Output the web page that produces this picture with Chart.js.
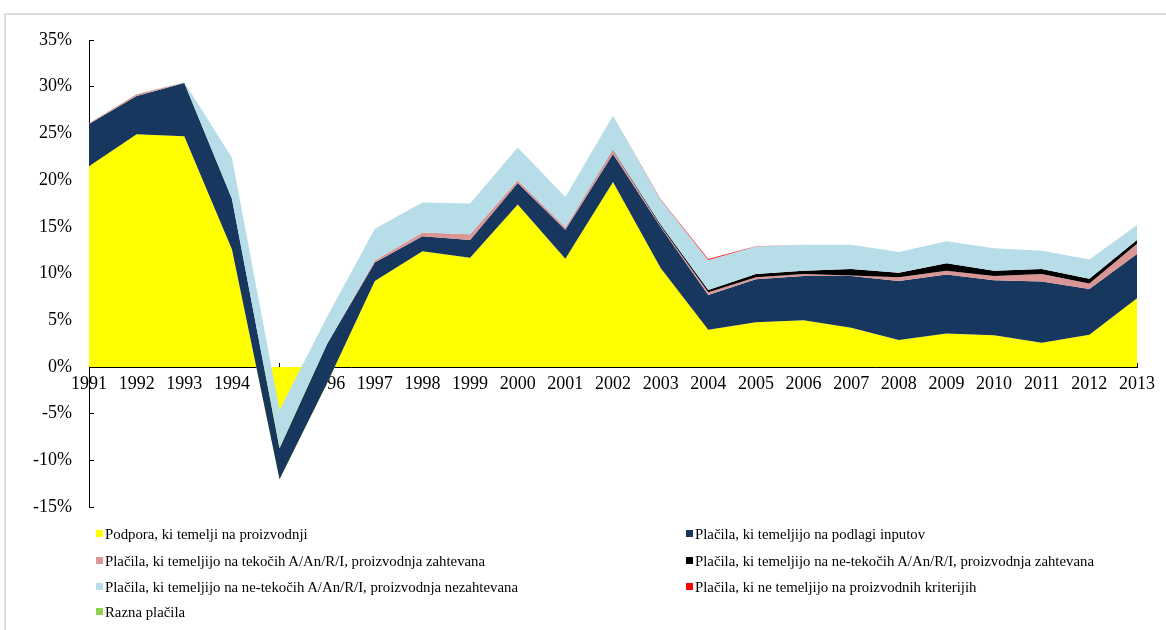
<!DOCTYPE html>
<html><head><meta charset="utf-8">
<script src="https://cdn.jsdelivr.net/npm/chart.js@4.4.1/dist/chart.umd.min.js"></script>
<style>
html,body{margin:0;padding:0;background:#fff;}
body{width:1166px;height:630px;position:relative;overflow:hidden;font-family:"Liberation Serif","Times New Roman",serif;}
#frame{position:absolute;left:4px;top:13px;width:1200px;height:700px;border-left:2px solid #dcdcdc;border-top:2px solid #dcdcdc;}
#wrap{position:absolute;left:0;top:0;width:1166px;height:540px;}
#legend{position:absolute;left:0;top:0;width:1166px;height:630px;pointer-events:none;}
.li{position:absolute;font-size:14.8px;line-height:16px;white-space:nowrap;color:#000;}
.sw{position:absolute;width:7px;height:7px;}
</style></head>
<body>
<div id="frame"></div>
<div id="wrap"><canvas id="c" width="1166" height="540"></canvas></div>
<div id="legend"></div>
<script>
const years = ['1991','1992','1993','1994','1995','1996','1997','1998','1999','2000','2001','2002','2003','2004','2005','2006','2007','2008','2009','2010','2011','2012','2013'];
const seriesNames = [
  'Podpora, ki temelji na proizvodnji',
  'Plačila, ki temeljijo na podlagi inputov',
  'Plačila, ki temeljijo na tekočih A/An/R/I, proizvodnja zahtevana',
  'Plačila, ki temeljijo na ne-tekočih A/An/R/I, proizvodnja zahtevana',
  'Plačila, ki temeljijo na ne-tekočih A/An/R/I, proizvodnja nezahtevana',
  'Plačila, ki ne temeljijo na proizvodnih kriterijih',
  'Razna plačila'
];
const seriesColors = ['#FFFF00','#17375E','#D99694','#000000','#B7DDE8','#FF0000','#92D050'];
const yTicks = [-15,-10,-5,0,5,10,15,20,25,30,35];

// series values (% shares)
const podpora   = [21.5,24.9,24.7,12.6,-12.0,-1.7,9.2,12.4,11.7,17.4,11.6,19.8,10.6,4.0,4.8,5.0,4.2,2.9,3.6,3.4,2.6,3.45,7.35];
const inputi    = [4.5,4.1,5.7,5.4,3.3,4.2,2.0,1.6,1.9,2.3,3.1,3.0,4.4,3.7,4.6,4.75,5.55,6.3,6.3,5.9,6.55,4.9,4.75];
const tekociZ   = [0.1,0.2,0.05,0,0,0,0.2,0.4,0.6,0.3,0.25,0.4,0.1,0.3,0.2,0.2,0.05,0.4,0.4,0.45,0.8,0.6,1.1];
const netekociZ = [0,0,0,0,0,0,0,0,0,0,0,0.05,0.15,0.25,0.35,0.35,0.7,0.5,0.8,0.55,0.55,0.5,0.4];
const netekociN = [0,0,0.05,4.4,4.1,2.9,3.4,3.2,3.3,3.5,3.25,3.65,2.65,3.2,2.95,2.8,2.6,2.2,2.35,2.4,1.95,2.05,1.6];
const neProiz   = [0,0,0,0,0,0,0,0,0,0,0,0,0.05,0.12,0.02,0,0,0,0,0,0,0,0];
const razna     = [0,0,0,0,0,0,0,0,0,0,0,0,0,0,0,0,0,0,0,0,0,0,0];

const components = [podpora, inputi, tekociZ, netekociZ, netekociN, neProiz, razna];
// running (stacked) totals, later series painted over earlier ones
const cum = [];
let run = years.map(() => 0);
components.forEach(arr => { run = run.map((v, i) => Math.round((v + arr[i]) * 1000) / 1000); cum.push(run); });

const datasets = components.map((arr, i) => ({
  label: seriesNames[i],
  data: cum[i],
  backgroundColor: seriesColors[i],
  borderColor: seriesColors[i],
  borderWidth: 0,
  pointRadius: 0,
  pointHoverRadius: 0,
  tension: 0,
  fill: i === 0 ? 'origin' : '-1',
  order: components.length - i
}));

const tickFont = {family: 'Liberation Serif', size: 18};
new Chart(document.getElementById('c'), {
  type: 'line',
  data: {labels: years, datasets},
  options: {
    responsive: false,
    animation: false,
    devicePixelRatio: 1,
    layout: {padding: {left: 0, right: 23, top: 40, bottom: 14}},
    plugins: {legend: {display: false}, tooltip: {enabled: false}},
    scales: {
      x: {
        type: 'category',
        offset: false,
        position: {y: 0},
        grid: {drawOnChartArea: false, tickLength: -5, color: '#000', lineWidth: 1},
        border: {display: true, color: '#000', width: 1},
        ticks: {font: tickFont, color: '#000', padding: 11, autoSkip: false, maxRotation: 0}
      },
      y: {
        min: -15, max: 35,
        afterBuildTicks: s => { s.ticks = yTicks.map(v => ({value: v})); },
        afterFit: s => { s.width = 89; },
        grid: {drawOnChartArea: false, tickLength: -5, color: '#000', lineWidth: 1},
        border: {display: true, color: '#000', width: 1},
        ticks: {font: tickFont, color: '#000', padding: 22, callback: v => v + '%'}
      }
    }
  }
});

// legend (two columns, series order)
const lg = document.getElementById('legend');
const colX = [96, 686];
const rowY = [534, 561, 587, 612];
seriesNames.forEach((name, i) => {
  const col = i % 2, row = Math.floor(i / 2);
  const sw = document.createElement('div');
  sw.className = 'sw';
  sw.style.left = colX[col] + 'px';
  sw.style.top = (rowY[row] - 4) + 'px';
  sw.style.background = seriesColors[i];
  lg.appendChild(sw);
  const t = document.createElement('div');
  t.className = 'li';
  t.style.left = (colX[col] + 9) + 'px';
  t.style.top = (rowY[row] - 8) + 'px';
  t.textContent = name;
  lg.appendChild(t);
});
</script>
</body></html>
